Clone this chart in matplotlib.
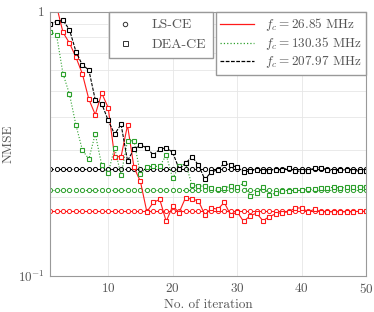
import matplotlib
matplotlib.use('Agg')
import matplotlib.pyplot as plt
from matplotlib.lines import Line2D
from matplotlib.ticker import NullFormatter

plt.rcParams['font.family'] = ['cmr10']
plt.rcParams['mathtext.fontset'] = 'cm'
plt.rcParams['axes.formatter.use_mathtext'] = True
plt.rcParams['font.size'] = 9.5

iterations = list(range(1, 51))

# LS-CE (flat)
ls_red = [0.176] * 50
ls_green = [0.212] * 50
ls_black = [0.254] * 50

# DEA-CE
dea_red = [1.3, 1.05, 0.835, 0.761, 0.673, 0.582, 0.467, 0.408, 0.492, 0.434,
           0.283, 0.283, 0.372, 0.258, 0.228, 0.175, 0.19, 0.195, 0.161, 0.184,
           0.174, 0.198, 0.195, 0.193, 0.170, 0.181, 0.179, 0.19, 0.17, 0.175,
           0.161, 0.169, 0.173, 0.162, 0.168, 0.172, 0.174, 0.175, 0.181, 0.181,
           0.175, 0.179, 0.175, 0.175, 0.175, 0.175, 0.175, 0.175, 0.176, 0.176]
dea_green = [0.841, 0.816, 0.582, 0.488, 0.373, 0.300, 0.277, 0.345, 0.263, 0.245,
             0.306, 0.241, 0.325, 0.325, 0.243, 0.259, 0.26, 0.26, 0.287, 0.234,
             0.26, 0.267, 0.221, 0.219, 0.219, 0.215, 0.213, 0.215, 0.219, 0.217,
             0.225, 0.201, 0.206, 0.217, 0.203, 0.206, 0.21, 0.21, 0.211, 0.211,
             0.213, 0.213, 0.215, 0.215, 0.217, 0.215, 0.217, 0.217, 0.217, 0.217]
dea_black = [0.90, 0.918, 0.927, 0.855, 0.707, 0.628, 0.603, 0.464, 0.449, 0.388,
             0.344, 0.375, 0.273, 0.302, 0.313, 0.306, 0.287, 0.302, 0.306, 0.294,
             0.254, 0.267, 0.283, 0.263, 0.232, 0.248, 0.252, 0.267, 0.263, 0.258,
             0.248, 0.25, 0.253, 0.25, 0.25, 0.253, 0.252, 0.257, 0.25, 0.249,
             0.25, 0.257, 0.257, 0.252, 0.249, 0.252, 0.252, 0.25, 0.25, 0.25]

freq_labels = ['$f_c = 26.85$ MHz', '$f_c = 130.35$ MHz', '$f_c = 207.97$ MHz']
colors = ['#ff1a1a', '#2ca02c', 'black']
styles = ['-', ':', (0, (3, 1.2))]

fig = plt.figure(figsize=(3.74, 3.12), dpi=100)
ax = fig.add_axes([0.134, 0.115, 0.845, 0.8475])

for ls, c, st in zip([ls_red, ls_green, ls_black], colors, styles):
    ax.plot(iterations, ls, color=c, linestyle=st, linewidth=0.8,
            marker='o', markersize=3.0, markerfacecolor='white',
            markeredgewidth=0.7)
for dea, c, st in zip([dea_red, dea_green, dea_black], colors, styles):
    ax.plot(iterations, dea, color=c, linestyle=st, linewidth=0.8,
            marker='s', markersize=3.5, markerfacecolor='white',
            markeredgewidth=0.8)

ax.set_yscale('log')
ax.set_xlim(1, 50)
ax.set_ylim(0.1, 1)
ax.set_xticks([10, 20, 30, 40, 50])
ax.set_yticks([0.1, 1])
ax.set_yticklabels(['$10^{-1}$', '1'])
ax.yaxis.set_minor_formatter(NullFormatter())
ax.grid(True, which='both', color='#e6e6e6', linewidth=0.6)
ax.set_axisbelow(True)
ax.tick_params(which='both', length=0, pad=4, labelcolor='#555555')
for s in ax.spines.values():
    s.set_color('#999999')
    s.set_linewidth(0.8)

ax.set_xlabel('No. of iteration', color='#555555', labelpad=2)
ax.set_ylabel('NMSE', color='#555555', labelpad=2)

h1 = [Line2D([], [], color='#333333', linestyle='none', marker='o', markersize=3.2,
             markerfacecolor='white', markeredgewidth=0.7),
      Line2D([], [], color='#333333', linestyle='none', marker='s', markersize=3.6,
             markerfacecolor='white', markeredgewidth=0.7)]
leg1 = ax.legend(h1, ['LS-CE', 'DEA-CE'], loc='upper right', bbox_to_anchor=(0.516, 1.0),
                 borderaxespad=0, fancybox=False, edgecolor='#999999', framealpha=1,
                 labelcolor='#555555', handlelength=1.3, handletextpad=1.3,
                 borderpad=0.5, prop={'size': 10})
ax.add_artist(leg1)
h2 = [Line2D([], [], color=c, linestyle=st, linewidth=0.9) for c, st in zip(colors, styles)]
ax.legend(h2, freq_labels, loc='upper right', borderaxespad=0, fancybox=False,
          edgecolor='#999999', framealpha=1, labelcolor='#555555', handlelength=2.6,
          labelspacing=0.15, borderpad=0.35)

fig.savefig('out.png', dpi=100)
